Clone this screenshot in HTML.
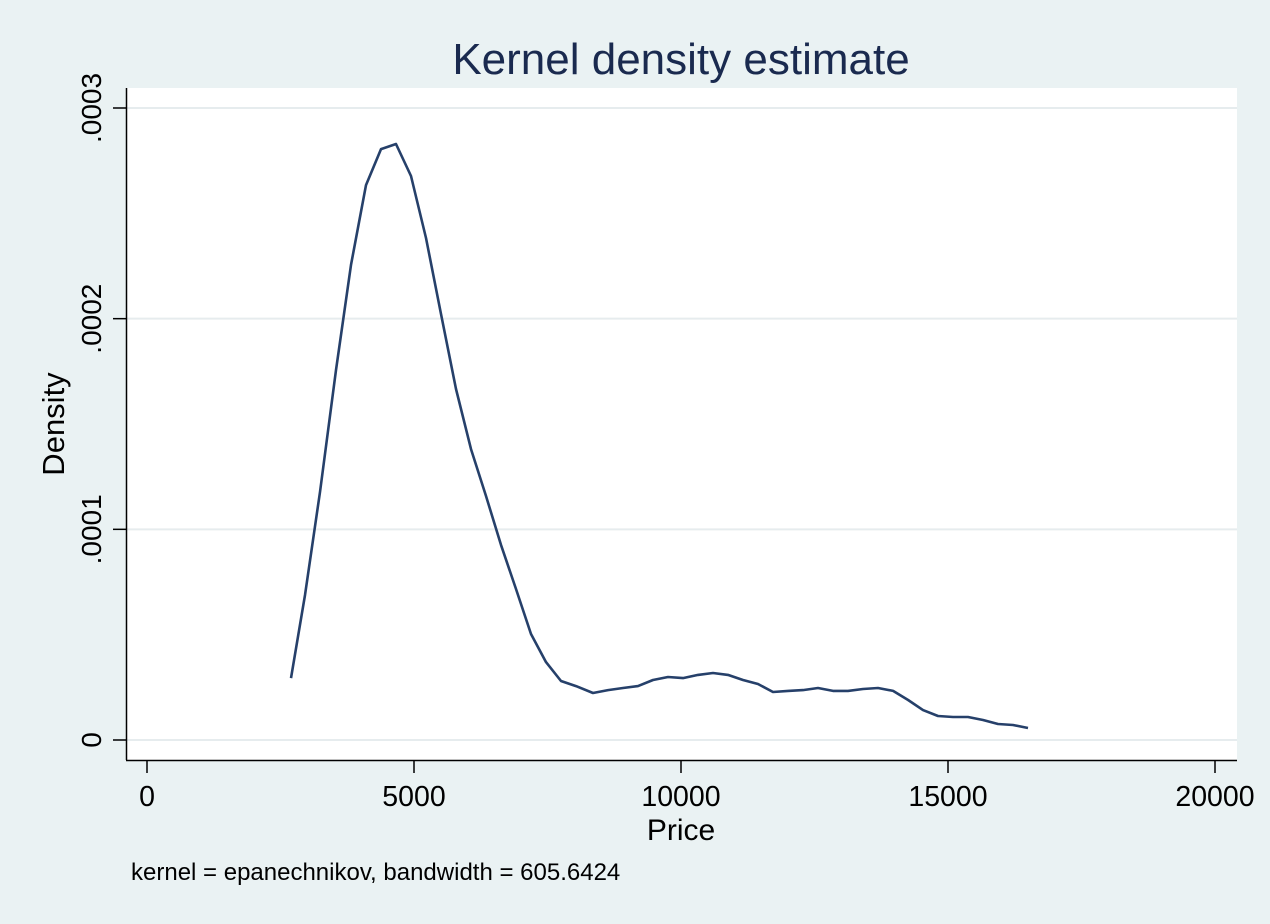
<!DOCTYPE html>
<html><head><meta charset="utf-8"><style>
body{margin:0;background:#eaf2f3;}
svg{display:block;font-family:"Liberation Sans",sans-serif;}
</style></head><body>
<svg id="chart" width="1270" height="924">
<rect x="0" y="0" width="1270" height="924" fill="#eaf2f3"/>
<rect x="127" y="88" width="1110" height="672" fill="#ffffff"/>
<text x="681" y="74" text-anchor="middle" font-size="44" fill="#1a2a4f">Kernel density estimate</text>
<text x="681" y="840" text-anchor="middle" font-size="30" fill="#000">Price</text>
<text transform="translate(64,424) rotate(-90)" text-anchor="middle" font-size="31" fill="#000">Density</text>
<text x="131" y="880" font-size="24" fill="#000">kernel = epanechnikov, bandwidth = 605.6424</text>
<g id="grid"></g><g id="axes"></g><g id="series"></g>
</svg>
<script>
const prices=[2697,2959,3240,3539,3820,4101,4382,4663,4944,5225,5506,5787,6068,6348,6629,6910,7191,7472,7753,8034,8352,8633,8914,9195,9476,9757,10038,10319,10600,10881,11161,11442,11723,12004,12285,12566,12847,13128,13409,13690,13971,14252,14532,14813,15094,15375,15656,15937,16218,16499];
const density=[2.94,6.88,11.77,17.56,22.55,26.34,28.05,28.29,26.77,23.83,20.22,16.66,13.81,11.58,9.26,7.17,5.03,3.70,2.80,2.56,2.23,2.37,2.47,2.56,2.85,2.99,2.94,3.09,3.18,3.09,2.85,2.66,2.28,2.33,2.37,2.47,2.33,2.33,2.42,2.47,2.33,1.90,1.42,1.14,1.09,1.09,0.95,0.76,0.71,0.57];
const xTicks=[0,5000,10000,15000,20000];
const yTicks=[0,10,20,30];
const yTickLabels=["0",".0001",".0002",".0003"];
const NS="http://www.w3.org/2000/svg";
function xs(v){return 147+v*(1068/20000);}
function ys(v){return 740-v*(632/30);}
function mk(tag,attrs,parent){const e=document.createElementNS(NS,tag);for(const k in attrs)e.setAttribute(k,attrs[k]);document.getElementById(parent).appendChild(e);return e;}
const ax=mk('line',{x1:126.5,y1:88,x2:126.5,y2:760,stroke:'#000','stroke-width':1.5},'axes');


const bx=mk('line',{x1:126,y1:760.5,x2:1237,y2:760.5,stroke:'#000','stroke-width':1.5},'axes');


yTicks.forEach((t,i)=>{
  const y=ys(t);
  const g=mk('line',{x1:127,y1:y,x2:1237,y2:y,stroke:'#e6ecee','stroke-width':2},'grid');
  
  
  const tk=mk('line',{x1:113,y1:y,x2:127,y2:y,stroke:'#000','stroke-width':1.5},'axes');
  
  
  const tx=mk('text',{transform:`translate(101,${y}) rotate(-90)`,'text-anchor':'middle','font-size':28,fill:'#000'},'axes');
  tx.textContent=yTickLabels[i];
  
  
});
xTicks.forEach(t=>{
  const x=xs(t);
  const tk=mk('line',{x1:x,y1:760,x2:x,y2:773,stroke:'#000','stroke-width':1.5},'axes');
  
  
  const tx=mk('text',{x:x,y:806,'text-anchor':'middle','font-size':28.5,fill:'#000'},'axes');
  tx.textContent=String(t);
  
  
});
const pts=prices.map((p,i)=>xs(p).toFixed(1)+','+ys(density[i]).toFixed(1)).join(' ');
const line=mk('polyline',{points:pts,fill:'none',stroke:'#26406a','stroke-width':2.6,'stroke-linejoin':'round'},'series');


</script>
</body></html>
